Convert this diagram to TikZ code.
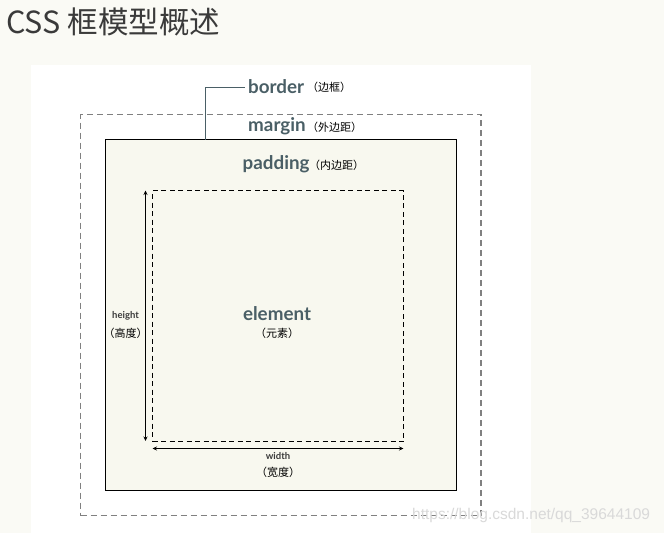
\documentclass[tikz,border=0pt]{standalone}
\usepackage{fontspec}
\usetikzlibrary{arrows.meta}
\newfontfamily\latofont{Lato}
\newfontfamily\cjkfont{Noto Sans CJK SC}
\newfontfamily\wmfont{Liberation Sans}
\definecolor{pagebg}{HTML}{FAFAF5}
\definecolor{boxfill}{HTML}{F8F8EF}
\definecolor{labelteal}{HTML}{4A5F66}
\definecolor{margingray}{HTML}{808080}
\definecolor{titlegray}{HTML}{3A3A3A}
\tikzset{
  box/.style={rectangle, inner sep=0pt, outer sep=0pt},
  mainlbl/.style={inner sep=0pt, text=labelteal, font=\latofont\bfseries\fontsize{18.8}{21}\selectfont},
  cnlbl/.style={inner sep=0pt, text=black, font=\cjkfont\fontsize{11}{13}\selectfont},
  dimlbl/.style={inner sep=0pt, text=titlegray, font=\latofont\bfseries\fontsize{9.5}{11}\selectfont},
  dimarrow/.style={line width=1pt, {Stealth[length=4.5pt,width=4pt]}-{Stealth[length=4.5pt,width=4pt]}}
}
\begin{document}
\begin{tikzpicture}[x=1pt,y=-1pt]
\useasboundingbox (0,0) rectangle (664,533);
\fill[pagebg] (0,0) rectangle (664,533);
\fill[white] (31,65) rectangle (530.5,533);
% title
\node[anchor=west, inner sep=0pt, text=titlegray, font=\cjkfont\fontsize{30.5}{34}\selectfont] (title) at (6,22) {CSS 框模型概述};
% margin box
\node[box, draw=margingray, line width=1.1pt, dash pattern=on 6pt off 4pt,
      minimum width=400.5pt, minimum height=401pt] (marginbox) at (280.75,315) {};
% border box
\node[box, draw=black, fill=boxfill, line width=1.5pt,
      minimum width=351pt, minimum height=351pt] (borderbox) at (281,315) {};
% padding / element box
\node[box, draw=black, line width=1.2pt, dash pattern=on 5pt off 3.5pt,
      minimum width=251pt, minimum height=251pt] (padbox) at (278,316) {};
% labels
\node[mainlbl, anchor=west] (borderlbl) at (248,87) {border};
\node[cnlbl, anchor=west] (bordercn) at (307,87.5) {（边框）};
\node[mainlbl, anchor=west] (marginlbl) at (248,126.5) {margin};
\node[cnlbl, anchor=west] (margincn) at (307,127) {（外边距）};
\node[mainlbl, anchor=west] (paddinglbl) at (242.5,164.5) {padding};
\node[cnlbl, anchor=west] (paddingcn) at (309,165) {（内边距）};
\node[mainlbl] (elemlbl) at (277,314) {element};
\node[cnlbl] (elemcn) at (277,333) {（元素）};
% border leader
\coordinate (leadfoot) at (205,139.5);
\draw[labelteal, line width=1pt] (leadfoot) |- ([xshift=-3pt]borderlbl.west);
% height dimension
\coordinate (htop) at (145.5,190.5);
\coordinate (hbot) at (145.5,441);
\draw[dimarrow] (htop) -- (hbot);
\node[dimlbl] (heightlbl) at (125.5,316) {height};
\node[cnlbl] (heightcn) at (125.5,333.5) {（高度）};
% width dimension
\coordinate (wleft) at (152.5,448.5);
\coordinate (wright) at (403.5,448.5);
\draw[dimarrow] (wleft) -- (wright);
\node[dimlbl] (widthlbl) at (278,456.5) {width};
\node[cnlbl] (widthcn) at (278,472) {（宽度）};
% watermark
\node[anchor=west, inner sep=0pt, text=black!15, font=\wmfont\fontsize{15.5}{17}\selectfont] (wm) at (412,515) {https://blog.csdn.net/qq\_39644109};
\end{tikzpicture}
\end{document}
